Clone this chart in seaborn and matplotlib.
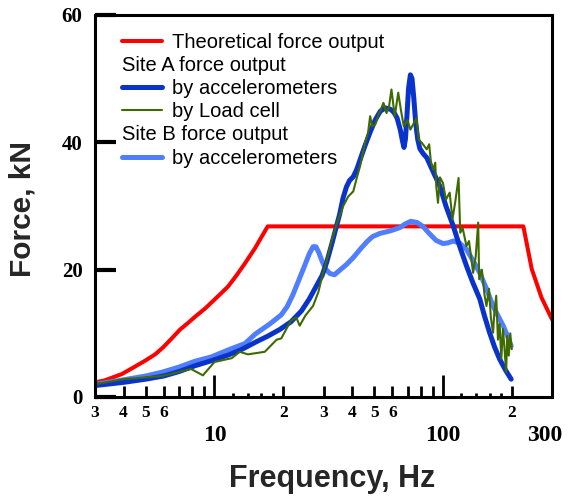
import matplotlib
matplotlib.use("Agg")
import matplotlib.pyplot as plt
import matplotlib.transforms as mtransforms
from matplotlib.lines import Line2D
import pandas as pd
import seaborn as sns

# ---------------- data ----------------
theory_freq = [3, 3.3, 3.93, 4.5, 4.97, 5.5, 5.96, 6.5, 7.07, 7.7, 8.22, 9.1,
               9.54, 10.7, 11.5, 12.6, 13.6, 15.0, 17.1,
               224.8, 244.6, 270, 300]
theory_force = [2.3, 2.6, 3.6, 4.8, 5.7, 6.7, 7.8, 9.2, 10.6, 11.7, 12.6, 13.9,
                14.6, 16.3, 17.4, 19.3, 21.0, 23.3, 26.8,
                26.8, 20.1, 15.6, 12.2]

siteA_acc_freq = [3, 4, 5, 6, 7, 8.2, 9.7, 11.5, 13.2, 15.1, 17.2, 19.3, 21.6,
                  24, 26, 27.5, 29.6, 31.0, 32.7, 34.0, 35.3, 36.5, 37.8, 39,
                  40.5, 42, 43.4, 45.5, 48, 50.5, 53.2, 56, 58.9, 61, 63, 65,
                  66.5, 67.5, 68.5, 69.5, 70.7, 72, 73.2, 74.5, 76, 77.5, 79.2,
                  82, 84.9, 90, 96.9, 103, 110.8, 118, 126.7, 135, 144.9, 152,
                  160, 168, 176.7, 188, 198.8]
siteA_acc_force = [1.8, 2.3, 2.8, 3.3, 4.0, 4.9, 5.7, 6.6, 7.5, 8.6, 9.6, 10.6,
                   11.8, 13.5, 15.4, 17.0, 19.1, 21.2, 24.2, 26.5, 28.7, 31.2,
                   33.0, 34.0, 34.6, 35.8, 37.3, 39.4, 41.6, 43.5, 44.9, 45.4,
                   45.2, 44.7, 43.8, 42.0, 40.2, 39.2, 40.5, 44.0, 48.5, 50.6,
                   50.0, 47.0, 43.0, 40.5, 39.0, 38.2, 37.6, 35.6, 33.1, 30.0,
                   26.9, 23.8, 20.6, 18.0, 15.4, 12.7, 10.1, 7.9, 6.0, 4.2, 2.8]

siteA_load_freq = [3.0, 4.0, 5.9, 7.9, 8.9, 10.0, 11.9, 12.9, 14.0, 16.6, 18.7,
                   19.6, 21.6, 22.8, 23.6, 25.0, 27.0, 28.5, 29.6, 31.0, 32.7,
                   34.5, 36.6, 38.5, 40.5, 42.0, 43.4, 45.6, 47.0, 48.0, 49.0,
                   50.5, 52.5, 54.9, 56.6, 58.0, 59.5, 61.5, 63.7, 65.5, 67.4,
                   70.0, 72.0, 74.0, 76.6, 78.3, 80.5, 82.5, 84.9, 87.0, 88.5,
                   90.6, 92.5, 93.5, 95.1, 97.0, 100, 103, 107, 110, 113, 117,
                   119, 122, 126.7, 130, 135.5, 139, 142.6, 144, 148, 152, 155,
                   159, 162, 165.6, 168, 171, 174, 177, 180, 183, 186, 189, 191,
                   194, 197, 200]
siteA_load_force = [2.0, 2.8, 3.3, 4.4, 3.4, 5.5, 6.1, 7.1, 6.7, 7.1, 9.0, 9.2,
                    12.0, 12.5, 11.2, 12.8, 14.3, 16.5, 19.0, 21.5, 24.8, 27.5,
                    30.0, 31.5, 32.3, 34.5, 36.3, 39.9, 41.5, 44.1, 42.5, 42.8,
                    44.5, 46.2, 44.6, 45.5, 48.3, 44.1, 47.8, 45.0, 42.5, 43.5,
                    42.0, 42.8, 43.8, 40.4, 40.0, 39.5, 38.9, 39.7, 37.0, 35.7,
                    36.8, 33.0, 30.5, 34.5, 33.6, 31.0, 32.1, 27.9, 30.5, 34.4,
                    25.8, 26.5, 23.7, 24.5, 19.5, 22.0, 27.4, 18.5, 20.0, 16.0,
                    14.3, 17.0, 12.5, 10.1, 13.5, 15.9, 9.0, 11.5, 6.0, 10.7,
                    7.5, 3.9, 9.6, 6.5, 10.0, 7.5]

siteB_acc_freq = [3, 4, 5, 5.9, 7, 8.2, 9.7, 11.5, 13.6, 15.1, 17.5, 19.6, 20.8,
                  22.0, 23.3, 24.6, 26.0, 27.0, 27.8, 28.6, 29.6, 30.8, 32.0,
                  33.5, 35.3, 37.8, 40.5, 43.4, 46.5, 49.2, 53, 58.9, 64.7,
                  68.5, 72.4, 77, 81.7, 87, 93.3, 100, 105, 110.8, 118, 126.7,
                  135, 144.9, 155, 165.6, 175, 183.4, 191, 198.8]
siteB_acc_force = [2.0, 2.7, 3.3, 3.9, 4.7, 5.6, 6.3, 7.4, 8.4, 9.9, 11.5, 12.9,
                   14.2, 16.0, 18.2, 20.3, 22.5, 23.6, 23.6, 22.7, 21.3, 20.0,
                   19.4, 19.2, 19.9, 20.8, 21.9, 23.2, 24.4, 25.2, 25.7, 26.1,
                   26.6, 27.2, 27.6, 27.4, 26.8, 25.7, 24.6, 24.1, 24.2, 24.5,
                   24.2, 23.2, 21.5, 19.5, 17.0, 14.3, 12.6, 11.2, 9.7, 8.0]

legend_labels = ["Theoretical force output", "Site A force output",
                 "by accelerometers", "by Load cell", "Site B force output",
                 "by accelerometers"]

x_major_ticks = [10, 100, 300]
x_major_labels = ["10", "100", "300"]
x_minor_ticks = [3, 4, 5, 6, 7, 8, 9, 20, 30, 40, 50, 60, 70, 80, 90, 200, 300]
x_minor_labels = ["3", "4", "5", "6", "", "", "", "2", "3", "4", "5", "6",
                  "", "", "", "2", "3"]
x_dot_ticks = [12, 14, 16, 18, 120, 140, 160, 180]
y_ticks = [0, 20, 40, 60]

# ---------------- style ----------------
sns.set_theme(style="white")
plt.rcParams['font.family'] = ['Liberation Sans', 'DejaVu Sans']
plt.rcParams['axes.edgecolor'] = 'black'

RED = "#FF0000"
DBLUE = "#0A33CC"
GREEN = "#3F6A00"
LBLUE = "#4F7FFF"

fig = plt.figure(figsize=(5.68, 4.97), dpi=100)
ax = fig.add_axes([95 / 568, 100 / 497, 457 / 568, 382 / 497])

# twin axis used only for the tiny dot ticks
ax2 = ax.twiny()

sns.lineplot(x=theory_freq, y=theory_force, ax=ax, color=RED, lw=2.9,
             estimator=None, sort=False)
sns.lineplot(x=siteB_acc_freq, y=siteB_acc_force, ax=ax, color=LBLUE, lw=3.6,
             estimator=None, sort=False)
sns.lineplot(x=siteA_acc_freq, y=siteA_acc_force, ax=ax, color=DBLUE, lw=3.6,
             estimator=None, sort=False)
sns.lineplot(x=siteA_load_freq, y=siteA_load_force, ax=ax, color=GREEN, lw=1.5,
             estimator=None, sort=False)

ax.set_xscale('log')
ax.set_xlim(3, 300)
ax.set_ylim(0, 60)

serif = dict(fontfamily='Liberation Serif', fontweight='bold')
ax.set_xticks(x_major_ticks, x_major_labels, fontsize=17, **serif)
ax.set_xticks(x_minor_ticks, x_minor_labels, minor=True, fontsize=12.5, **serif)
ax.set_yticks(y_ticks, [str(v) for v in y_ticks], fontsize=15, **serif)

ax.tick_params(axis='x', which='major', direction='in', length=16, width=2,
               pad=20, bottom=True, top=False, colors='black')
ax.tick_params(axis='x', which='minor', direction='in', length=8, width=2,
               pad=6, bottom=True, top=False, colors='black')
ax.tick_params(axis='y', which='major', direction='in', length=15, width=3,
               pad=9, left=True, right=False, colors='black')

# shift the "300" label left so it stays inside the figure
for lab in ax.get_xticklabels():
    if lab.get_text() == "300":
        lab.set_transform(lab.get_transform() +
                          mtransforms.ScaledTranslation(-7 / 100, 0,
                                                        fig.dpi_scale_trans))

for sp in ax.spines.values():
    sp.set_linewidth(2.2)
    sp.set_color('black')

ax2.set_xscale('log')
ax2.set_xlim(3, 300)
ax2.set_xticks(x_dot_ticks, [""] * len(x_dot_ticks))
ax2.set_xticks([], minor=True)
ax2.xaxis.set_ticks_position('bottom')
ax2.tick_params(axis='x', which='major', direction='in', length=3, width=2,
                bottom=True, top=False, labelbottom=False, labeltop=False,
                colors='black')
for sp in ax2.spines.values():
    sp.set_visible(False)

ax.set_xlabel("Frequency, Hz", fontsize=22, fontweight='bold')
ax.xaxis.set_label_coords(0.519, -0.176)
ax.set_ylabel("Force, kN", fontsize=21.5, fontweight='bold')
ax.yaxis.set_label_coords(-0.129, 0.493)

# legend
handles = [Line2D([], [], color=RED, lw=2.9),
           Line2D([], [], color='none'),
           Line2D([], [], color=DBLUE, lw=3.6),
           Line2D([], [], color=GREEN, lw=1.5),
           Line2D([], [], color='none'),
           Line2D([], [], color=LBLUE, lw=3.6)]
LFS = 14.5
HL, HTP = 2.0, 0.5
leg = ax.legend(handles, legend_labels, loc='upper left',
                bbox_to_anchor=(0.059, 0.954), frameon=False, fontsize=LFS,
                handlelength=HL, handletextpad=HTP, labelspacing=0.21,
                borderpad=0, borderaxespad=0)
shift_px = (HL + HTP) * LFS * fig.dpi / 72
for i, t in enumerate(leg.get_texts()):
    t.set_color('black')
    if i in (1, 4):
        t.set_position((-shift_px, 0))

fig.savefig("out.png", dpi=100)
